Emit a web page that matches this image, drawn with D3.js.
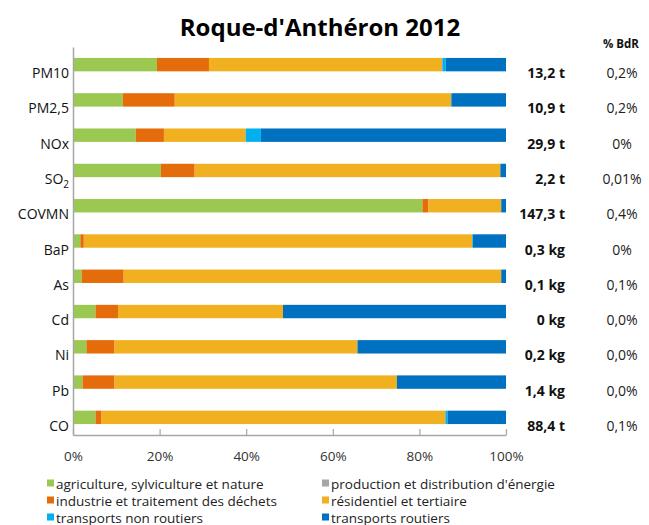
<!DOCTYPE html>
<html><head><meta charset="utf-8">
<script src="https://cdn.jsdelivr.net/npm/d3@7"></script>
<style>body{margin:0;background:#fff;} svg{font-family:"Open Sans","Noto Sans",sans-serif;}</style>
</head><body><svg id="c" width="649" height="525"></svg>
<script>
const categories = ["PM10","PM2,5","NOx","SO2","COVMN","BaP","As","Cd","Ni","Pb","CO"];
const seriesNames = ["agriculture, sylviculture et nature","production et distribution d'énergie","industrie et traitement des déchets","résidentiel et tertiaire","transports non routiers","transports routiers"];
const agriculture = [19.4,11.5,14.5,20.3,80.7,1.7,2.0,5.2,3.1,2.2,5.2];
const energie     = [0,0,0,0,0,0,0,0,0,0,0];
const industrie   = [12.0,12.0,6.5,7.8,1.4,0.8,9.7,5.2,6.5,7.4,1.4];
const residentiel = [53.9,63.8,18.9,70.6,16.8,89.7,87.2,38.1,56.1,65.2,79.4];
const nonRoutiers = [0.8,0.1,3.5,0,0,0.1,0,0,0,0,0.5];
const routiers    = [13.9,12.6,56.6,1.3,1.1,7.7,1.1,51.5,34.3,25.2,13.5];
const totals = ["13,2 t","10,9 t","29,9 t","2,2 t","147,3 t","0,3 kg","0,1 kg","0 kg","0,2 kg","1,4 kg","88,4 t"];
const bdr = ["0,2%","0,2%","0%","0,01%","0,4%","0%","0,1%","0,0%","0,0%","0,0%","0,1%"];
const xTicks = [0,20,40,60,80,100];
const colors = ["#9BC850","#A6A6A6","#E46C0A","#F0B020","#00B0F0","#0070C0"];

(function(){
const seriesValues = [agriculture,energie,industrie,residentiel,nonRoutiers,routiers];
const rows = categories.map((c,i)=>{const o={cat:c}; seriesNames.forEach((s,j)=>o[s]=seriesValues[j][i]); return o;});
const stack = d3.stack().keys(seriesNames)(rows);

const svg = d3.select("#c");
const mL=73, mR=506, mT=47, mB=435;
const x = d3.scaleLinear().domain([0,100]).range([mL,mR]);
const y = d3.scaleBand().domain(categories).range([mT,mB]).paddingInner(0.62).paddingOuter(0.31);
const labOff = 13.5;

svg.append("text").attr("x",320).attr("y",36).attr("text-anchor","middle")
  .attr("font-size",24).attr("font-weight","bold").attr("fill","#000").text("Roque-d'Anthéron 2012");

stack.forEach((layer,j)=>{
  svg.append("g").selectAll("rect").data(layer).join("rect")
    .attr("x",d=>x(d[0])).attr("width",d=>Math.max(0,x(d[1])-x(d[0])))
    .attr("y",d=>y(d.data.cat)).attr("height",y.bandwidth())
    .attr("fill",colors[j]);
});

const xa = svg.append("g").attr("transform",`translate(0,${mB})`)
  .call(d3.axisBottom(x).tickValues(xTicks).tickFormat(d=>d+"%").tickSizeInner(-6).tickSizeOuter(0).tickPadding(16));
xa.attr("font-size",13.5).attr("font-family","Open Sans");
xa.select(".domain").attr("stroke","#A6A6A6").attr("stroke-width",1.5);
xa.selectAll(".tick line").attr("stroke","#A6A6A6").attr("stroke-width",1.2);
xa.selectAll(".tick text").attr("font-size",13.5).attr("fill","#333");

const ya = svg.append("g").attr("transform",`translate(${mL},0)`)
  .call(d3.axisLeft(y).tickSize(0).tickPadding(4));
ya.attr("font-size",14).attr("font-family","Open Sans");
ya.select(".domain").attr("stroke","#A6A6A6").attr("stroke-width",1.5);
ya.selectAll(".tick text").attr("fill","#111").attr("dy",null).attr("y",labOff)
  .each(function(d){ if(d==="SO2"){ const t=d3.select(this); t.text("SO"); t.append("tspan").attr("font-size",10).attr("dy","4").text("2"); } });

svg.append("text").attr("x",621).attr("y",48).attr("text-anchor","middle").attr("font-size",11.5).attr("font-weight","bold").attr("fill","#111").text("% BdR");
svg.append("g").selectAll("text").data(categories).join("text")
  .attr("x",565).attr("y",d=>y(d)+y.bandwidth()/2+labOff).attr("text-anchor","end")
  .attr("font-size",14).attr("font-weight","bold").attr("fill","#111").text((d,i)=>totals[i]);
svg.append("g").selectAll("text").data(categories).join("text")
  .attr("x",622).attr("y",d=>y(d)+y.bandwidth()/2+labOff).attr("text-anchor","middle")
  .attr("font-size",14).attr("fill","#222").text((d,i)=>bdr[i]);

const leg = svg.append("g");
seriesNames.forEach((s,i)=>{
  const col=i%2, row=Math.floor(i/2);
  const lx = col===0?47:322, ly = 488.5+row*17;
  leg.append("rect").attr("x",lx).attr("y",ly-9).attr("width",7).attr("height",7).attr("fill",colors[i]);
  leg.append("text").attr("x",lx+9).attr("y",ly).attr("font-size",13.5).attr("fill","#222").text(s);
});
})();
</script></body></html>
